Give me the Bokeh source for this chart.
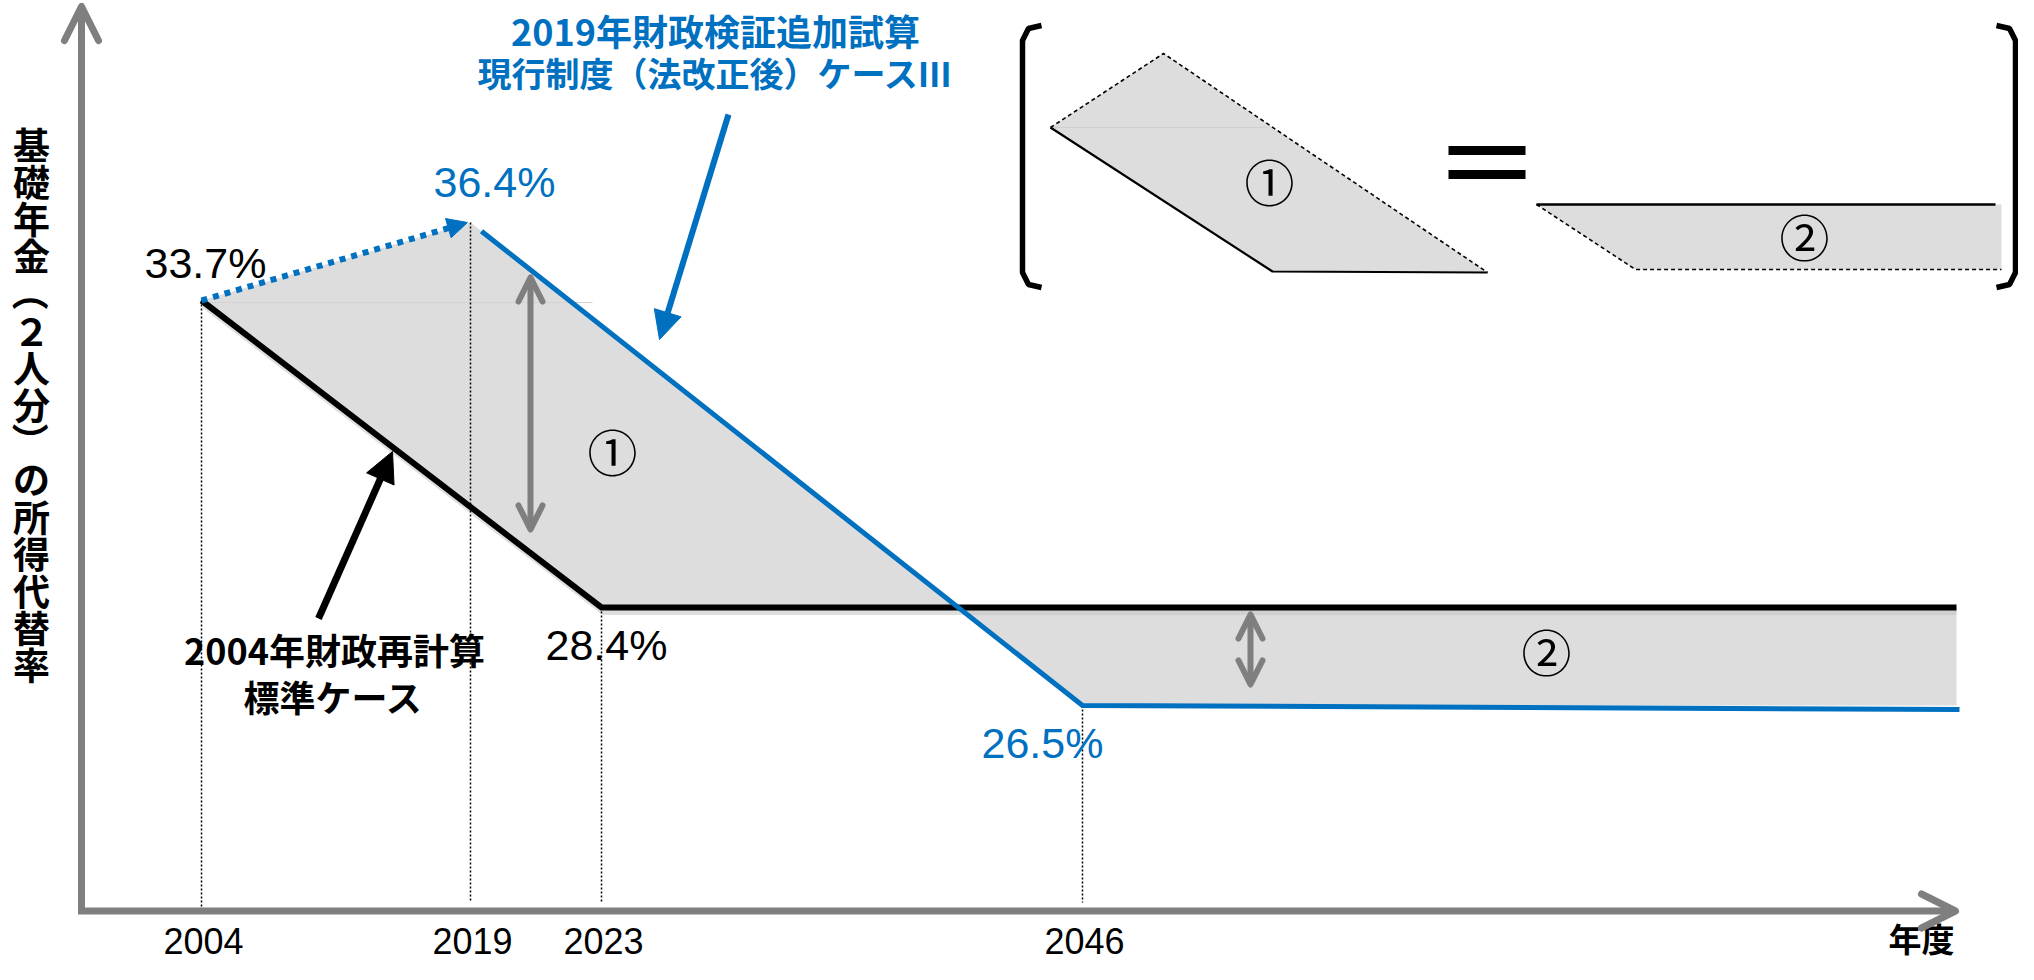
import numpy as np
from bokeh.plotting import figure
from bokeh.models import Range1d, Arrow, OpenHead, NormalHead
from bokeh.core.properties import value
from bokeh.embed import file_html
from bokeh.resources import INLINE

# ------------------------------------------------------------------ data
years = [2004, 2019, 2023, 2046]
year_labels = ["2004", "2019", "2023", "2046"]

std_years = [2004, 2023]             # 2004年財政再計算 標準ケース
std_rates = [33.7, 28.4]
std_labels = ["33.7%", "28.4%"]
std_name = ["2004年財政再計算", "標準ケース"]

case3_years = [2004, 2019, 2046]     # 2019年財政検証追加試算 ケースⅢ
case3_rates = [33.7, 36.4, 26.5]
case3_labels = ["36.4%", "26.5%"]
case3_name = ["2019年財政検証追加試算", "現行制度（法改正後）ケースⅢ"]

area_labels = ["①", "②"]
y_title = "基礎年金（２人分）の所得代替率"
x_title = "年度"

# ---------------------------------------------------------------- layout
W, H, M = 2018, 964, 8
BLUE, GRAY, FILL, BLACK = "#0070C0", "#7F7F7F", "#DDDDDD", "#000000"
CJK = value("Noto Sans CJK JP")
NUM = value("Liberation Sans")

# schematic (not to scale) axes: anchor positions in page pixels
X_ANCH = ([2004, 2019, 2023, 2046], [209, 478, 609, 1090])
Y_ANCH = ([26.5, 28.4, 33.7, 36.4], [713, 615, 308, 230])
X_END = 1964            # right end of the projection horizon
AXIS_X, AXIS_Y = 89, 918.5
Y_TOP, X_RIGHT = 14, 1963


def sx(v):
    return np.interp(v, *X_ANCH)


def sy(v):
    return np.interp(v, *Y_ANCH)


p = figure(width=W, height=H, x_range=Range1d(M, W + M), y_range=Range1d(H + M, M),
           output_backend="svg", toolbar_location=None, min_border=0, title=None,
           x_axis_type=None, y_axis_type=None, outline_line_color=None,
           background_fill_color="white", border_fill_color="white")
p.xgrid.visible = False
p.ygrid.visible = False

# screen positions of the series
bx, by = sx(case3_years), sy(case3_rates)
kx, ky = sx(std_years), sy(std_rates)
flat = ky[-1]
t = (flat - by[1]) / (by[2] - by[1])
ix = bx[1] + t * (bx[2] - bx[1])          # crossing of the two cases

# shaded areas ① and ②
p.patch([kx[0], bx[1], ix, kx[1]], [ky[0], by[1], flat, flat], fill_color=FILL, line_color=None)
p.patch([ix, bx[2], X_END, X_END], [flat, by[2], by[2], flat], fill_color=FILL, line_color=None)
p.line([kx[0], 600], [ky[0] + 2, ky[0] + 2], line_color="#d2d2d2", line_width=1.2)

# soft shadows under the series lines
p.line([kx[0] + 2, kx[1] + 2, X_END], [ky[0] + 5, flat + 5, flat + 5], line_color="#c8c8c8",
       line_width=5, line_alpha=0.6)

# dotted guide lines down to the year axis
guide_top = [ky[0], by[1], flat, by[2]]
p.segment(x0=sx(years), y0=guide_top, x1=sx(years), y1=[AXIS_Y] + [910] * 3,
          line_color=BLACK, line_width=1.5, line_dash="2 2")

# axes (hand drawn arrows)
p.add_layout(Arrow(x_start=AXIS_X, y_start=AXIS_Y + 3, x_end=AXIS_X, y_end=Y_TOP,
                   line_color=GRAY, line_width=7,
                   end=OpenHead(size=34, line_color=GRAY, line_width=7, line_join="round", line_cap="round")))
p.add_layout(Arrow(x_start=AXIS_X - 3.5, y_start=AXIS_Y, x_end=X_RIGHT, y_end=AXIS_Y,
                   line_color=GRAY, line_width=7,
                   end=OpenHead(size=34, line_color=GRAY, line_width=7, line_join="round", line_cap="round")))

# series lines
p.line([kx[0], kx[1], X_END], [ky[0], flat, flat], line_color=BLACK, line_width=6, line_join="miter")
dx, dy = bx[2] - bx[1], by[2] - by[1]
L = np.hypot(dx, dy)
p.line([bx[1] + 14 * dx / L, bx[2], X_END + 3], [by[1] + 14 * dy / L, by[2], by[2] + 4],
       line_color=BLUE, line_width=5, line_join="miter")
p.add_layout(Arrow(x_start=kx[0], y_start=ky[0], x_end=bx[1] - 3, y_end=by[1],
                   line_color=BLUE, line_width=6, line_dash="6 6",
                   end=NormalHead(size=20, fill_color=BLUE, line_color=BLUE, line_width=1)))

# difference arrows
for xa, y0, y1 in [(538, 285, 537), (1258, 622, 692)]:
    p.add_layout(Arrow(x_start=xa, y_start=y1, x_end=xa, y_end=y0, line_color=GRAY, line_width=6,
                       start=OpenHead(size=24, line_color=GRAY, line_width=6, line_join="round", line_cap="round"),
                       end=OpenHead(size=24, line_color=GRAY, line_width=6, line_join="round", line_cap="round")))

# callout arrows
p.add_layout(Arrow(x_start=736, y_start=122, x_end=667, y_end=347, line_color=BLUE, line_width=6,
                   end=NormalHead(size=28, fill_color=BLUE, line_color=BLUE, line_width=1)))
p.add_layout(Arrow(x_start=326, y_start=626, x_end=400, y_end=459, line_color=BLACK, line_width=7,
                   end=NormalHead(size=30, fill_color=BLACK, line_color=BLACK, line_width=1)))

# value labels
p.text(x=[kx[0] + 4, kx[1] + 5], y=[ky[0] - 38, flat + 37], text=std_labels, text_font=NUM,
       text_font_size="43px", text_align="center", text_baseline="middle", text_color=BLACK)
p.text(x=[bx[1] + 24, bx[2] - 40], y=[by[1] - 41, by[2] + 37], text=case3_labels, text_font=NUM,
       text_font_size="43px", text_align="center", text_baseline="middle", text_color=BLUE)

# year tick labels and x title
p.text(x=sx(years) + 2, y=[948] * len(years), text=year_labels, text_font=NUM, text_font_size="36px",
       text_align="center", text_baseline="middle", text_color=BLACK)
p.text(x=[1929], y=[945], text=[x_title], text_font=CJK, text_font_size="33px", text_font_style="bold",
       text_align="center", text_baseline="middle", text_color=BLACK)

# vertical y title
chars = list(y_title)
cy = [151 + 37.2 * i for i in range(len(chars))]
ang = [-np.pi / 2 if c in "（）" else 0.0 for c in chars]
p.text(x=[39] * len(chars), y=cy, text=chars, angle=ang, text_font=CJK, text_font_size="37px",
       text_font_style="bold", text_align="center", text_baseline="middle", text_color=BLACK)

# series names
p.text(x=[723, 723], y=[37, 80], text=case3_name, text_font=CJK, text_font_size=["36px", "34px"],
       text_font_style="bold", text_align="center", text_baseline="middle", text_color=BLUE)
p.text(x=[342, 341], y=[656, 703], text=std_name, text_font=CJK, text_font_size="36px",
       text_font_style="bold", text_align="center", text_baseline="middle", text_color=BLACK)

# area labels
p.text(x=[620, 1554], y=[457, 657], text=area_labels, text_font=CJK, text_font_size="50px",
       text_align="center", text_baseline="middle", text_color=BLACK)

# ---------------------------------------------------------------- inset
I1x, I1y = [1058, 1171, 1495, 1280], [135, 61, 280, 279]
p.patch(I1x, I1y, fill_color=FILL, line_color=None)
p.line([1058, 1274], [135, 135], line_color="#d0d0d0", line_width=1.2)
p.line([I1x[0], I1x[1], I1x[2]], [I1y[0], I1y[1], I1y[2]], line_color=BLACK, line_width=1.6, line_dash="4 3")
p.line([I1x[2], I1x[3], I1x[0]], [I1y[2], I1y[3], I1y[0]], line_color=BLACK, line_width=2.2)

I2x, I2y = [1544, 2009, 2009, 1643], [212, 212, 277, 277]
p.patch(I2x, I2y, fill_color=FILL, line_color=None)
p.line([1544, 2003], [212, 212], line_color=BLACK, line_width=2.5)
p.line([I2x[0], I2x[3], I2x[2]], [I2y[0], I2y[3], I2y[2]], line_color=BLACK, line_width=1.6, line_dash="4 3")

p.text(x=[1277, 1812], y=[187, 242], text=area_labels, text_font=CJK, text_font_size="50px",
       text_align="center", text_baseline="middle", text_color=BLACK)

# equals sign
p.segment(x0=[1456, 1456], y0=[158, 182], x1=[1533, 1533], y1=[158, 182], line_color=BLACK, line_width=9)

# brackets
p.line([1049, 1036, 1030, 1030, 1036, 1049], [33, 36, 48, 280, 292, 295], line_color=BLACK, line_width=5.5)
p.line([2004, 2017, 2023, 2023, 2017, 2004], [33, 36, 48, 280, 292, 295], line_color=BLACK, line_width=5.5)

open("out.html", "w").write(file_html(p, INLINE))
